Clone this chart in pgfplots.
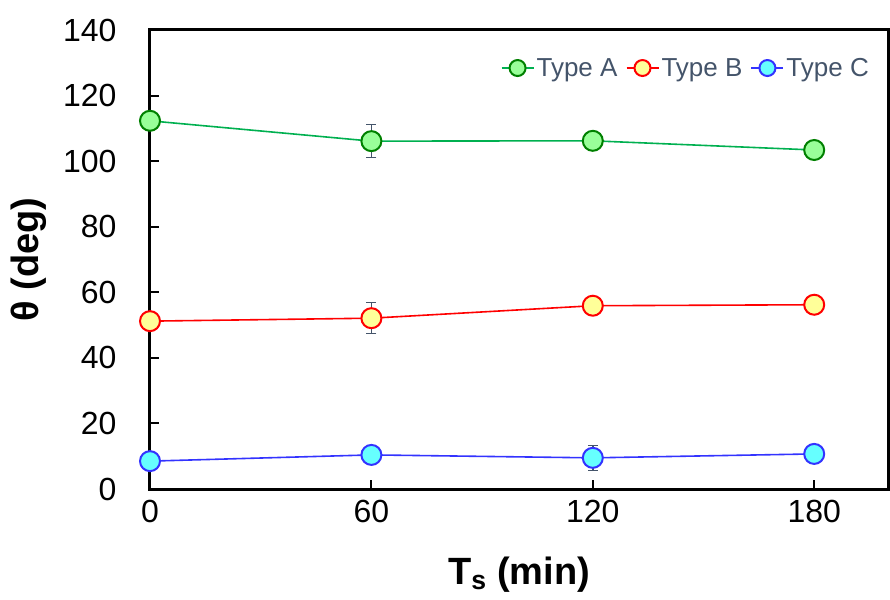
\documentclass[border=0pt]{standalone}
\usepackage{fontspec}
\setmainfont{Liberation Sans}
\usepackage{pgfplots}
\pgfplotsset{compat=1.18}
\definecolor{lineA}{HTML}{00B050}
\definecolor{edgeA}{HTML}{008000}
\definecolor{fillA}{HTML}{99FF99}
\definecolor{lineB}{HTML}{FF0000}
\definecolor{fillB}{HTML}{FFFF99}
\definecolor{lineC}{HTML}{3333FF}
\definecolor{fillC}{HTML}{66FFFF}
\definecolor{errgray}{HTML}{44546A}
\definecolor{legtext}{HTML}{44546A}

\begin{document}
\begin{tikzpicture}
\begin{axis}[
  scale only axis, width=738pt, height=459pt,
  xmin=0, xmax=200, ymin=0, ymax=140,
  xtick={0,60,120,180}, ytick={0,20,...,140},
  tick align=inside, xtick pos=bottom, ytick pos=left,
  major tick length=9pt,
  axis line style={line width=3pt},
  tick style={line width=2pt, black},
  ticklabel style={font=\fontsize{32}{38}\selectfont},
  /pgf/number format/assume math mode=true,
  xticklabel style={yshift=-8pt},
  yticklabel style={xshift=-30pt},
  xlabel={\textbf{T\textsubscript{s} (min)}},
  ylabel={\textbf{θ (deg)}},
  label style={font=\fontsize{38}{44}\selectfont},
  xlabel style={at={(axis description cs:0.5,-0.186)}, anchor=center},
  ylabel style={at={(axis description cs:-0.164,0.5)}, anchor=center},
  legend columns=3,
  legend style={at={(1,1)}, anchor=north east, xshift=-14pt, yshift=-24pt,
    draw=none, fill=none, font=\fontsize{26}{31}\selectfont, text=legtext,
    /tikz/every even column/.append style={column sep=6pt}},
  legend image code/.code={
    \draw[mark repeat=2, mark phase=2, mark size=8pt, line width=2pt]
      plot coordinates {(0pt,0pt) (16pt,0pt) (32pt,0pt)};},
  every axis plot/.append style={line width=1.6pt},
  error bars/error bar style={color=errgray, line width=1.4pt},
  error bars/error mark options={rotate=90, mark size=5pt, color=errgray, line width=1.4pt},
]
\addplot[color=lineA, mark=*, mark size=10pt,
  mark options={fill=fillA, draw=edgeA, line width=2pt},
  error bars/.cd, y dir=both, y explicit]
  coordinates {
  (0,112.3) +- (0,1)
  (60,106.1) +- (0,5.0)
  (120,106.2) +- (0,1)
  (180,103.4) +- (0,1)
  };
\addlegendentry{Type A}
\addplot[color=lineB, mark=*, mark size=10pt,
  mark options={fill=fillB, draw=lineB, line width=2pt},
  error bars/.cd, y dir=both, y explicit]
  coordinates {
  (0,51.2) +- (0,1)
  (60,52.1) +- (0,4.7)
  (120,55.9) +- (0,1)
  (180,56.2) +- (0,1)
  };
\addlegendentry{Type B}
\addplot[color=lineC, mark=*, mark size=10pt,
  mark options={fill=fillC, draw=lineC, line width=2pt},
  error bars/.cd, y dir=both, y explicit]
  coordinates {
  (0,8.5) +- (0,1)
  (60,10.4) +- (0,1)
  (120,9.5) +- (0,3.8)
  (180,10.7) +- (0,1)
  };
\addlegendentry{Type C}
\end{axis}
\pgfresetboundingbox
\path ([xshift=-150pt,yshift=-110pt]current axis.south west) rectangle ([xshift=2pt,yshift=30pt]current axis.north east);
\end{tikzpicture}
\end{document}
